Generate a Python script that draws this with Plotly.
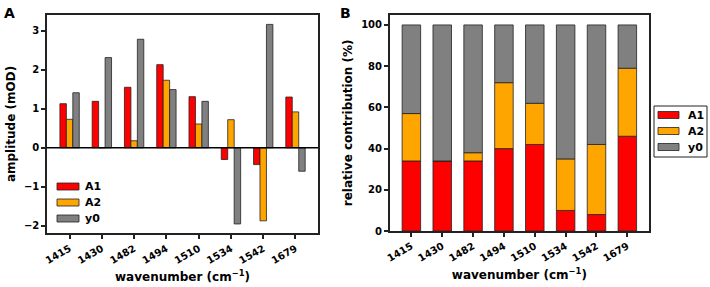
import plotly.graph_objects as go

wavenumbers = ["1415", "1430", "1482", "1494", "1510", "1534", "1542", "1679"]
amp_A1 = [1.13, 1.19, 1.55, 2.13, 1.31, -0.30, -0.43, 1.30]
amp_A2 = [0.73, 0.0, 0.18, 1.73, 0.61, 0.72, -1.87, 0.92]
amp_y0 = [1.41, 2.31, 2.78, 1.49, 1.19, -1.95, 3.16, -0.60]
rel_A1 = [34, 34, 34, 40, 42, 10, 8, 46]
rel_A2 = [23, 0, 4, 32, 20, 25, 34, 33]
rel_y0 = [43, 66, 62, 28, 38, 65, 58, 21]
series = ["A1", "A2", "y0"]
colors = ["#ff0000", "#ffa500", "#808080"]

FONT = "DejaVu Sans"
W, H = 710, 287
fig = go.Figure()
for name, vals, col in zip(series, [amp_A1, amp_A2, amp_y0], colors):
    fig.add_trace(go.Bar(x=wavenumbers, y=vals, name=name, marker_color=col,
                         marker_line=dict(color="#222", width=0.8),
                         xaxis="x", yaxis="y", offsetgroup=name, showlegend=False))

base_A2 = rel_A1
base_y0 = [a + b for a, b in zip(rel_A1, rel_A2)]
for name, vals, base, col in zip(series, [rel_A1, rel_A2, rel_y0], [None, base_A2, base_y0], colors):
    fig.add_trace(go.Bar(x=wavenumbers, y=vals, base=base, name=name, marker_color=col,
                         marker_line=dict(color="#222", width=0.8), width=0.6,
                         xaxis="x2", yaxis="y2", offsetgroup="stack", showlegend=False))

tickfont = dict(family=FONT, size=10, color="black", weight="bold")
titlefont = dict(family=FONT, size=12, color="black", weight="bold")
legfont = dict(family=FONT, size=11, color="black", weight="bold")
axcommon = dict(showline=True, linecolor="#222", linewidth=1.5, mirror=True,
                ticks="outside", ticklen=4, tickwidth=1.5, tickcolor="#222",
                tickfont=tickfont, showgrid=False, zeroline=False, automargin=False)

shapes = []
annotations = [
    dict(text="A", x=0.003, y=0.99, xref="paper", yref="paper", xanchor="left", yanchor="top",
         showarrow=False, font=dict(family=FONT, size=14, color="black", weight="bold")),
    dict(text="B", x=0.476, y=0.99, xref="paper", yref="paper", xanchor="left", yanchor="top",
         showarrow=False, font=dict(family=FONT, size=14, color="black", weight="bold")),
]

def px(x):
    return x / W

def py(y):
    return 1 - y / H

def add_legend(x0, x1, ycenters, tx, box=None):
    if box is not None:
        bx0, by0, bx1, by1 = box
        shapes.append(dict(type="rect", xref="paper", yref="paper", x0=px(bx0), x1=px(bx1),
                           y0=py(by1), y1=py(by0), line=dict(color="#222", width=1),
                           fillcolor="white", layer="above"))
    for name, col, yc in zip(series, colors, ycenters):
        shapes.append(dict(type="rect", xref="paper", yref="paper", x0=px(x0), x1=px(x1),
                           y0=py(yc + 3.5), y1=py(yc - 3.5), fillcolor=col,
                           line=dict(color="#222", width=0.8), layer="above"))
        annotations.append(dict(text=name, x=px(tx), y=py(yc), xref="paper", yref="paper",
                                xanchor="left", yanchor="middle", showarrow=False, font=legfont))

add_legend(57, 79, [186.5, 202.5, 218.5], 83)
add_legend(658, 679, [115, 131, 147], 686, box=(654, 106, 707, 157))

fig.update_layout(
    width=W, height=H, margin=dict(l=0, r=0, t=0, b=0, autoexpand=False),
    plot_bgcolor="white", paper_bgcolor="white",
    barmode="group", bargap=0.4, bargroupgap=0, showlegend=False,
    xaxis=dict(domain=[0.0662, 0.448], anchor="y", tickangle=-30, range=[-0.7, 7.7],
               title=dict(text="wavenumber (cm<sup>−1</sup>)", font=titlefont, standoff=8), **axcommon),
    yaxis=dict(domain=[0.187, 0.949], anchor="x", range=[-2.19, 3.41], tickvals=[-2, -1, 0, 1, 2, 3],
               ticktext=["−2", "−1", "0", "1", "2", "3"],
               title=dict(text="amplitude (mOD)", font=titlefont, standoff=6), **axcommon),
    xaxis2=dict(domain=[0.549, 0.914], anchor="y2", tickangle=-30, range=[-0.7, 7.7],
                title=dict(text="wavenumber (cm<sup>−1</sup>)", font=titlefont, standoff=8), **axcommon),
    yaxis2=dict(domain=[0.195, 0.949], anchor="x2", range=[0, 105], tickvals=[0, 20, 40, 60, 80, 100],
                title=dict(text="relative contribution (%)", font=titlefont, standoff=6), **axcommon),
    shapes=shapes,
    annotations=annotations,
)
# zero line on left panel
fig.add_shape(type="line", xref="x domain", yref="y", x0=0, x1=1, y0=0, y1=0,
              line=dict(color="black", width=1.5))
fig.write_html("out.html", config={"displayModeBar": False},
               post_script="document.body.style.margin='0';document.body.style.overflow='hidden';")
